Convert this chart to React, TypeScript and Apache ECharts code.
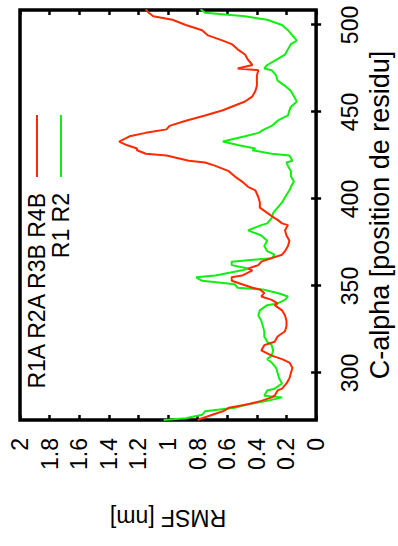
import React, { useEffect, useRef } from "react";
import * as echarts from "echarts";

// C-alpha residue positions (x of the original, unrotated gnuplot plot)
const positions = [
  273, 274, 276, 278, 280, 282, 284, 286, 287, 290, 291, 294, 297, 300, 303, 306, 308, 310, 313, 316,
  318, 321, 324, 327, 330, 333, 336, 339, 340, 342, 344, 346, 348, 349, 351, 353, 355, 356, 359, 360,
  362, 364, 366, 368, 370, 373, 376, 379, 382, 385, 386, 388, 389, 392, 395, 398, 401, 405, 407, 410,
  413, 416, 419, 421, 422, 425, 426, 428, 429, 431, 433, 436, 438, 440, 442, 445, 448, 451, 453, 456,
  459, 462, 465, 468, 471, 474, 475, 477, 480, 483, 486, 489, 491, 494, 497, 500, 503, 505, 507, 509,
];

// RMSF [nm] for "R1A R2A R3B R4B" (red)
const rmsfRed = [
  0.80, 0.77, 0.70, 0.63, 0.59, 0.46, 0.37, 0.30, 0.28, 0.26, 0.23, 0.20, 0.18, 0.17, 0.16, 0.18, 0.23, 0.30, 0.37, 0.35,
  0.28, 0.26, 0.21, 0.20, 0.20, 0.21, 0.23, 0.28, 0.26, 0.30, 0.37, 0.35, 0.38, 0.43, 0.50, 0.57, 0.57, 0.50, 0.43, 0.46,
  0.39, 0.37, 0.30, 0.23, 0.21, 0.19, 0.18, 0.20, 0.21, 0.19, 0.23, 0.26, 0.28, 0.33, 0.38, 0.38, 0.39, 0.41, 0.46, 0.50,
  0.55, 0.59, 0.68, 0.75, 0.86, 1.01, 1.15, 1.21, 1.21, 1.28, 1.33, 1.26, 1.15, 1.01, 0.99, 0.88, 0.75, 0.63, 0.57, 0.48,
  0.43, 0.41, 0.40, 0.40, 0.40, 0.39, 0.53, 0.43, 0.46, 0.48, 0.53, 0.57, 0.63, 0.73, 0.77, 0.88, 0.97, 1.10, 1.13, 1.15,
];

// RMSF [nm] for "R1 R2" (green)
const rmsfGreen = [
  1.03, 0.88, 0.77, 0.75, 0.55, 0.46, 0.33, 0.23, 0.35, 0.33, 0.28, 0.23, 0.25, 0.26, 0.27, 0.30, 0.33, 0.30, 0.29, 0.30,
  0.33, 0.35, 0.35, 0.36, 0.37, 0.39, 0.38, 0.33, 0.26, 0.21, 0.19, 0.26, 0.36, 0.53, 0.55, 0.77, 0.81, 0.68, 0.50, 0.46,
  0.57, 0.57, 0.30, 0.28, 0.33, 0.35, 0.33, 0.37, 0.46, 0.37, 0.33, 0.31, 0.30, 0.29, 0.26, 0.23, 0.21, 0.18, 0.17, 0.15,
  0.17, 0.17, 0.19, 0.20, 0.16, 0.18, 0.30, 0.43, 0.41, 0.53, 0.63, 0.48, 0.39, 0.35, 0.30, 0.26, 0.19, 0.18, 0.17, 0.13,
  0.15, 0.17, 0.21, 0.26, 0.27, 0.30, 0.35, 0.33, 0.27, 0.21, 0.19, 0.17, 0.13, 0.16, 0.19, 0.23, 0.33, 0.48, 0.75, 0.78,
];

const seriesNames = ["R1A R2A R3B R4B", "R1 R2"];
const seriesColors = ["#ff2a00", "#11ee11"];
const positionTicks = [300, 350, 400, 450, 500];
const xTitle = "C-alpha [position de residu]";
const yTitle = "RMSF [nm]";

export default function App() {
  const ref = useRef<HTMLDivElement>(null);

  useEffect(() => {
    if (!ref.current) return;
    const chart = echarts.init(ref.current, null, { renderer: "svg" });
    const font = "'Liberation Sans', Arial, Helvetica, sans-serif";
    const fs = 23;

    const tick = { show: true, inside: true, length: 5, lineStyle: { color: "#000", width: 2.5 } };

    const option: any = {
      animation: false,
      backgroundColor: "#fff",
      textStyle: { fontFamily: font },
      grid: {
        left: 126,
        right: 10,
        top: 20,
        bottom: 76,
        show: true,
        borderColor: "#000",
        borderWidth: 3.5,
        backgroundColor: "transparent",
      },
      xAxis: [
        {
          type: "value",
          position: "bottom",
          min: 273,
          max: 508.6,
          axisLine: { show: false },
          axisTick: { ...tick, customValues: positionTicks },
          axisLabel: {
            customValues: positionTicks,
            color: "#000",
            fontSize: fs,
            fontFamily: font,
            margin: 22,
          },
          splitLine: { show: false },
          name: xTitle,
          nameLocation: "middle",
          nameGap: 47,
          nameTextStyle: { color: "#000", fontSize: 27, fontFamily: font },
        },
        {
          type: "value",
          position: "top",
          min: 273,
          max: 508.6,
          axisLine: { show: false },
          axisTick: { ...tick, customValues: positionTicks },
          axisLabel: { show: false },
          splitLine: { show: false },
        },
      ],
      yAxis: [
        {
          type: "value",
          position: "left",
          min: 0,
          max: 2,
          interval: 0.2,
          axisLine: { show: false },
          axisTick: tick,
          axisLabel: { color: "#000", fontSize: fs, fontFamily: font, margin: 18 },
          splitLine: { show: false },
          name: yTitle,
          nameLocation: "middle",
          nameRotate: 90,
          nameGap: 86,
          nameTextStyle: { color: "#000", fontSize: fs, fontFamily: font },
        },
        {
          type: "value",
          position: "right",
          min: 0,
          max: 2,
          interval: 0.2,
          axisLine: { show: false },
          axisTick: tick,
          axisLabel: { show: false },
          splitLine: { show: false },
        },
      ],
      series: [
        {
          name: seriesNames[0],
          type: "line",
          showSymbol: false,
          symbol: "none",
          data: positions.map((p, i) => [p, rmsfRed[i]]),
          lineStyle: { color: seriesColors[0], width: 2 },
          itemStyle: { color: seriesColors[0] },
          z: 3,
        },
        {
          name: seriesNames[1],
          type: "line",
          showSymbol: false,
          symbol: "none",
          data: positions.map((p, i) => [p, rmsfGreen[i]]),
          lineStyle: { color: seriesColors[1], width: 2 },
          itemStyle: { color: seriesColors[1] },
          z: 2,
        },
      ],
      graphic: seriesNames.flatMap((name, i) => {
        const y = 37 + i * 24;
        return [
          {
            type: "text",
            x: 353,
            y,
            style: {
              text: name,
              align: "right",
              verticalAlign: "middle",
              fontSize: fs,
              fontFamily: font,
              fill: "#000",
            },
          },
          {
            type: "line",
            shape: { x1: 369, y1: y, x2: 431, y2: y },
            style: { stroke: seriesColors[i], lineWidth: 2 },
          },
        ];
      }),
    };

    chart.setOption(option);
    return () => chart.dispose();
  }, []);

  return (
    <div
      style={{
        position: "fixed",
        left: 0,
        top: 0,
        width: 398,
        height: 546,
        overflow: "hidden",
        background: "#fff",
      }}
    >
      <div
        ref={ref}
        style={{
          position: "absolute",
          left: 0,
          top: 0,
          width: 546,
          height: 398,
          transformOrigin: "0 0",
          transform: "translate(0px, 546px) rotate(-90deg)",
        }}
      />
    </div>
  );
}
